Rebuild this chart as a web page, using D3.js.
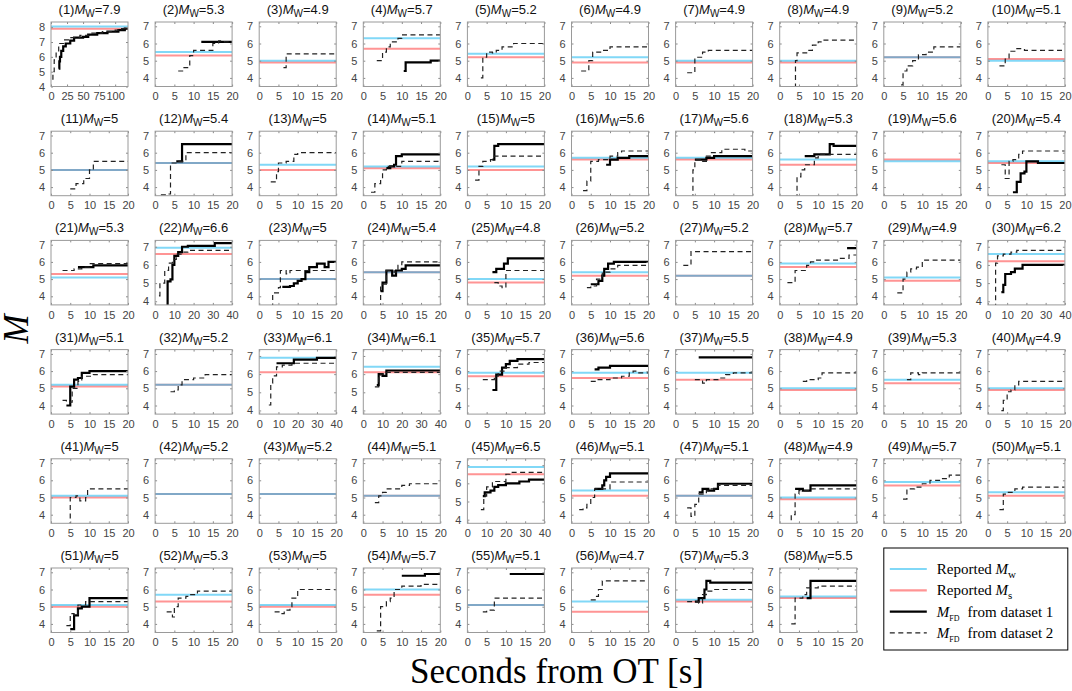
<!DOCTYPE html>
<html lang="en">
<head>
  <meta charset="utf-8">
  <title>Magnitude evolution, 58 events</title>
  <script src="https://d3js.org/d3.v7.min.js"></script>
  <style>
    body { margin: 0; background: #fff; }
    svg { display: block; }
    .tick text { font-family: "Liberation Sans", Arial, sans-serif; font-size: 11px; fill: #444; }
    .tick line { stroke: #8a8a8a; }
  </style>
</head>
<body>
<svg id="chart" width="1072" height="691"></svg>
<script>
  // ---- data ----
  const titleMw = [7.9, 5.3, 4.9, 5.7, 5.2, 4.9, 4.9, 4.9, 5.2, 5.1,
                   5, 5.4, 5, 5.1, 5, 5.6, 5.6, 5.3, 5.6, 5.4,
                   5.3, 6.6, 5, 5.4, 4.8, 5.2, 5.2, 5.7, 4.9, 6.2,
                   5.1, 5.2, 6.1, 6.1, 5.7, 5.6, 5.5, 4.9, 5.3, 4.9,
                   5, 5.2, 5.2, 5.1, 6.5, 5.1, 5.1, 4.9, 5.7, 5.1,
                   5, 5.3, 5, 5.7, 5.1, 4.7, 5.3, 5.5]

  // reported Mw (cyan) and Ms (red)
  const reportedMw = [8.05, 5.5, 5.0, 6.3, 5.4, 5.2, 5.0, 5.0, 5.2, 5.0,
                      5.0, 5.4, 5.3, 5.2, 5.2, 5.7, 5.7, 5.6, 5.5, 5.5,
                      5.1, 6.95, 5.0, 5.4, 5.0, 5.4, 5.2, 5.9, 5.1, 6.6,
                      5.2, 5.2, 6.9, 6.4, 5.9, 5.9, 5.9, 5.0, 5.5, 5.0,
                      5.1, 5.2, 5.2, 5.1, 6.9, 5.4, 5.1, 5.0, 5.9, 5.3,
                      5.1, 5.7, 5.1, 6.0, 5.1, 5.3, 5.4, 5.6]
  const reportedMs = [7.9, 5.3, 4.9, 5.7, 5.2, 4.9, 4.9, 4.9, 5.2, 5.1,
                      5.0, 5.4, 5.0, 5.1, 5.0, 5.6, 5.6, 5.3, 5.6, 5.4,
                      5.3, 6.6, 5.0, 5.4, 4.8, 5.2, 5.2, 5.7, 4.9, 6.2,
                      5.1, 5.2, 6.1, 6.1, 5.7, 5.6, 5.5, 4.9, 5.3, 4.9,
                      5.0, 5.2, 5.2, 5.1, 6.5, 5.1, 5.1, 4.9, 5.7, 5.1,
                      5.0, 5.3, 5.0, 5.7, 5.1, 4.7, 5.3, 5.5]

  // time span (s) of each panel
  const xMax = [120, 20, 20, 20, 20, 20, 20, 20, 20, 20,
                20, 20, 20, 20, 20, 20, 20, 20, 20, 20,
                20, 40, 20, 20, 20, 20, 20, 20, 20, 40,
                20, 20, 40, 40, 20, 20, 20, 20, 20, 20,
                20, 20, 20, 20, 40, 20, 20, 20, 20, 20,
                20, 20, 20, 20, 20, 20, 20, 20]

  const yRangeByX = { 20: [3.5, 7.25], 40: [3.8, 7.35], 120: [4, 8.35] }
  const yTicksByX = { 20: [4, 5, 6, 7], 40: [4, 5, 6, 7], 120: [4, 5, 6, 7, 8] }
  const xTicksByX = { 20: [0, 5, 10, 15, 20], 40: [0, 10, 20, 30, 40], 120: [0, 25, 50, 75, 100] }

  // M_FD from dataset 1 (solid), steps as [time, M]
  const ds1 = [
    [[12,5.2],[13,5.7],[14,6.0],[16,6.4],[19,6.7],[23,6.9],[30,7.1],[36,7.3],[50,7.35],[58,7.5],[72,7.6],[88,7.7],[105,7.8],[115,7.9]],
    [[12,6.1]],
    [],
    [[10.5,4.4],[11,4.9],[17.5,5.0]],
    [], [], [], [], [], [],
    [],
    [[5.5,5.5],[7,6.5]],
    [],
    [[6,5.1],[7,5.2],[8,5.3],[8.5,5.8],[10,5.9]],
    [[6.5,5.6],[7,6.4],[8,6.5]],
    [[9,5.3],[10,5.6],[12,5.7],[15,5.8]],
    [[5,5.6],[8,5.7],[10,5.8]],
    [[6.5,5.8],[9,5.9],[13,6.5],[14,6.4]],
    [],
    [[6.5,3.7],[7.5,4.3],[8.5,4.8],[9.5,4.9],[10,5.5],[13,5.4]],
    [[7,5.7],[11,5.8]],
    [[6,3.8],[6.5,5.1],[8,5.2],[9,6.0],[10,6.5],[12,6.7],[14,7.0],[17,7.05],[31,7.2]],
    [[6,4.55],[8,4.6],[9,4.75],[10,4.9],[11,5.0],[12,5.4],[13,5.7],[15,5.9],[17,5.7],[18,6.0]],
    [[4.5,4.3],[5,4.8],[6,5.5],[7.5,5.2],[8.5,5.5],[10,5.6],[11,5.8]],
    [[6.5,5.4],[7.5,5.6],[9.5,5.9],[10.5,6.2]],
    [[5,4.7],[7,4.9],[8,5.2],[8.5,5.6],[9.5,5.9],[11,6.0]],
    [],
    [[17.5,6.8]],
    [],
    [[7,4.5],[8,4.9],[9,5.5],[12,5.6],[14,5.8],[18,6.0]],
    [[4,4.0],[5,5.1],[6,5.5],[7,5.6],[8,5.9],[10,6.0]],
    [],
    [[9,6.6],[18,6.8],[30,6.9]],
    [[7,5.4],[8,6.0],[10,5.9],[12,6.2]],
    [[6.5,4.9],[7.5,5.8],[9,6.2],[10,6.4],[11,6.6],[13,6.7]],
    [[6,6.1],[7,6.2],[10,6.3]],
    [[6,6.8]],
    [], [], [],
    [], [], [], [],
    [[8,5.3],[9,5.5],[12,5.6],[14,5.8],[16,5.9],[20,6.0],[27,6.1],[32,6.2]],
    [[6,5.5],[8,5.7],[8.5,6.0],[9,6.2],[10,6.4]],
    [[6,5.3],[7,5.5],[8.5,5.4],[10,5.5],[11,5.8]],
    [[4,5.5],[6,5.4],[8,5.7]],
    [], [],
    [[5,3.7],[6,4.5],[7,4.9],[8,5.0],[10,5.5]],
    [], [],
    [[10,6.8],[16,6.9]],
    [[11,6.9]],
    [],
    [[5,5.3],[6,5.5],[7.5,6.0],[8,6.5],[9,6.4]],
    [[7,5.5],[8,6.5]]
  ]

  // M_FD from dataset 2 (dashed)
  const ds2 = [
    [[2,4.5],[3,5.0],[5,5.8],[8,6.4],[12,6.9],[20,7.15],[30,7.3],[45,7.45],[60,7.6],[80,7.7],[100,7.8],[110,7.9]],
    [[6,4.4],[7.5,4.6],[9,5.3],[10,5.6],[15,6.0],[16.5,6.15],[18,6.1]],
    [[6.3,4.6],[7,5.4]],
    [[3.5,5.0],[5,5.5],[6,5.8],[7,6.1],[9,6.3],[10,6.5]],
    [[3.5,4.0],[4,5.2],[5,5.5],[6.5,5.45],[7.5,5.6],[9,5.8],[12,6.0]],
    [[2.5,4.4],[4.5,5.0],[5.5,5.5],[8,5.6],[10,5.8]],
    [[3,4.3],[5,5.2],[7,5.5],[8.5,5.6]],
    [[4,3.4],[4.1,5.0],[4.5,5.45],[7,5.6],[8.5,5.9],[10,6.1],[11,6.2]],
    [[4.5,3.6],[5,4.4],[6,4.7],[7.5,5.0],[9,5.35],[11,5.5],[13,5.8]],
    [[3,4.7],[4.5,5.1],[5.5,5.55],[7,5.7],[9.5,5.6]],
    [[5,3.9],[6.5,4.2],[8.5,4.5],[10,5.0],[11,5.5]],
    [[1.5,3.55],[3,3.6],[4,5.4],[6,5.5],[8,6.0]],
    [[3,4.3],[4.5,4.9],[5,5.4],[7,5.5],[9,5.9],[10,6.0]],
    [[2,3.7],[3,4.2],[4.5,4.5],[5,5.0],[6,5.2],[10,5.5]],
    [[2,4.4],[3,5.2],[4,5.5],[6,5.6],[7,5.8]],
    [[3,3.8],[4,4.35],[5,5.5],[7,5.6],[10,5.8],[12,6.0],[13,6.1]],
    [[4,3.4],[4.5,5.0],[5,5.6],[7,5.5],[8,5.8],[9,6.0],[12,6.2],[18,6.1]],
    [[4,3.4],[4.5,4.6],[5.5,5.0],[6.5,5.3],[9,5.7],[10,5.9]],
    [],
    [[3.5,5.3],[4.5,4.5],[5.5,5.5],[6.5,5.6],[8,5.9],[9,6.1]],
    [[3,5.5],[6,5.6],[8,5.7],[10,5.9]],
    [[2,4.3],[2.5,5.0],[5,5.7],[7,6.1],[9,6.3],[11,6.6],[14,6.7],[17,6.8]],
    [[3,3.4],[3.5,4.2],[5,4.5],[5.5,5.5],[7,5.3],[8,5.5]],
    [[4,3.4],[4.5,4.7],[6,5.5],[8,5.4],[9,5.8],[10,6.0]],
    [[7,4.8],[8,4.6],[9,4.5],[10,5.5]],
    [[4,4.5],[5,4.6],[6.5,5.0],[8,5.4],[10,5.6],[12,5.8]],
    [[2,5.8],[4,6.6]],
    [[2,4.8],[4,5.5],[7,5.8],[8,6.0],[9,6.1],[15,6.2],[18,6.4]],
    [[3.5,4.2],[5,5.0],[6,5.4],[7,5.6],[8.5,5.7],[10,6.1]],
    [[3,3.7],[4,6.1],[5,6.5],[8,6.6],[12,6.7],[15,6.8]],
    [[3,4.3],[4,4.2],[5.5,5.0],[7,5.4],[8,5.7],[11,5.8]],
    [[4,4.8],[5,4.9],[6,5.2],[7,5.5],[10,5.6],[13,5.8]],
    [[5,4.3],[6,5.5],[7,5.9],[9,6.4],[12,6.5],[17,6.6]],
    [[6,5.3],[8,5.8],[9,6.0],[11,6.1]],
    [[4,5.5],[7,5.7],[8,6.0],[9.5,6.2],[13,6.4],[16,6.5]],
    [[5,5.4],[6.5,5.5],[10,5.6],[13,5.7],[15,5.9],[16,6.0],[17,5.9]],
    [[5,5.5],[7,5.3],[8,5.5],[11,5.6],[13,5.8],[15,5.9]],
    [[6,5.4],[7,5.5],[10,5.6],[11,5.9]],
    [[6,5.5],[7,5.9],[9,5.8],[10,5.9]],
    [[3.5,3.7],[4,4.3],[5,4.8],[6,4.9],[7,5.2],[8,5.4]],
    [[4.5,3.4],[5,5.0],[6.5,5.1],[7.5,4.8],[9,5.0],[9.5,5.5]],
    [],
    [],
    [[3,4.7],[4,5.1],[5,5.3],[6,5.5],[10,5.7],[12,5.8]],
    [[7,4.55],[8.5,5.3],[10,5.8],[13,6.1],[20,6.5],[22,6.6]],
    [[2,4.3],[3,4.4],[4,4.6],[5,5.0],[6,5.5],[10,5.9]],
    [[3,4.4],[4,3.9],[5,4.6],[6,5.2],[8,5.4],[9,5.5],[11,5.7]],
    [[2,3.4],[3,4.0],[4,5.2],[5,5.4],[8,5.5]],
    [[5,4.9],[6,5.5],[8,5.6],[10,5.8],[12,6.0],[15,6.1],[17,6.3]],
    [[3,4.3],[4,5.2],[5,5.3],[7,5.5],[9,5.6]],
    [[4,3.9],[5,4.6],[6,4.5],[7,5.1],[9,5.3]],
    [[3,4.7],[4.5,4.4],[5,5.0],[6,5.5],[8,5.6],[9,5.7],[11,5.9]],
    [[4,4.7],[5.5,4.6],[6.5,4.8],[8,5.0],[8.5,5.5],[10,6.0]],
    [[3.5,3.6],[4.5,5.0],[6,5.3],[7,5.5],[8,6.0],[10,6.2],[15,6.3]],
    [[4,4.7],[5,4.8],[7,5.5]],
    [[5,5.4],[6.5,5.6],[7,6.0],[8,6.5]],
    [[3,5.3],[6,5.2],[7,5.7],[8,5.9],[10,6.0]],
    [[3,4.0],[4,5.5],[6,5.7],[7,6.1],[9,6.1],[10,6.2]]
  ]

  // ---- layout ----
  const x0 = 51, dx = 104.1, pw = 77
  const y0 = 22, dy = 109.2, ph = 64.5
  const cyan = "#1ab8f0", red = "#ff3c3c"
  const dash = "5,3.5"
  const sans = '"Liberation Sans", Arial, sans-serif'
  const serif = '"Liberation Serif", "Times New Roman", serif'

  const svg = d3.select("#chart")
  const defs = svg.append("defs")

  titleMw.forEach(function (mw, i) {
    const col = i % 10, row = Math.floor(i / 10)
    const g = svg.append("g")
      .attr("transform", `translate(${x0 + col * dx}, ${y0 + row * dy})`)

    const x = d3.scaleLinear().domain([0, xMax[i]]).range([0, pw])
    const y = d3.scaleLinear().domain(yRangeByX[xMax[i]]).range([ph, 0])

    defs.append("clipPath").attr("id", "clip" + i)
      .append("rect").attr("width", pw).attr("height", ph)

    const plot = g.append("g").attr("clip-path", `url(#clip${i})`)

    // reported magnitudes
    plot.append("line")
      .attr("x1", x(0)).attr("x2", x(xMax[i]))
      .attr("y1", y(reportedMs[i])).attr("y2", y(reportedMs[i]))
      .attr("stroke", red).attr("stroke-width", 2).attr("stroke-opacity", 0.55)
    plot.append("line")
      .attr("x1", x(0)).attr("x2", x(xMax[i]))
      .attr("y1", y(reportedMw[i])).attr("y2", y(reportedMw[i]))
      .attr("stroke", cyan).attr("stroke-width", 2).attr("stroke-opacity", 0.55)

    const line = d3.line()
      .x(d => x(d[0]))
      .y(d => y(d[1]))
      .curve(d3.curveStepAfter)

    // step series, extended to the panel end
    const extend = s => s.length ? s.concat([[xMax[i], s[s.length - 1][1]]]) : s

    if (ds1[i].length) {
      plot.append("path")
        .datum(extend(ds1[i]))
        .attr("d", line)
        .attr("fill", "none")
        .attr("stroke", "#000")
        .attr("stroke-width", 2.2)
    }
    if (ds2[i].length) {
      plot.append("path")
        .datum(extend(ds2[i]))
        .attr("d", line)
        .attr("fill", "none")
        .attr("stroke", "#222")
        .attr("stroke-width", 1.2)
        .attr("stroke-dasharray", dash)
    }

    // axes (ticks inside, mirrored on top/right)
    g.append("g")
      .attr("transform", `translate(0, ${ph})`)
      .call(d3.axisBottom(x).tickValues(xTicksByX[xMax[i]]).tickFormat(d3.format("d")).tickSize(-2).tickPadding(6))
      .call(a => a.select(".domain").remove())
    g.append("g")
      .call(d3.axisLeft(y).tickValues(yTicksByX[xMax[i]]).tickFormat(d3.format("d")).tickSize(-2).tickPadding(6))
      .call(a => a.select(".domain").remove())
    g.append("g")
      .call(d3.axisTop(x).tickValues(xTicksByX[xMax[i]]).tickSize(-2).tickFormat(""))
      .call(a => a.select(".domain").remove())
    g.append("g")
      .attr("transform", `translate(${pw}, 0)`)
      .call(d3.axisRight(y).tickValues(yTicksByX[xMax[i]]).tickSize(-2).tickFormat(""))
      .call(a => a.select(".domain").remove())

    g.append("rect")
      .attr("width", pw).attr("height", ph)
      .attr("fill", "none")
      .attr("stroke", "#9a9a9a")
      .attr("stroke-width", 1)

    // title
    const t = g.append("text")
      .attr("x", pw / 2).attr("y", -8)
      .attr("text-anchor", "middle")
      .style("font-family", sans)
      .style("font-size", "13px")
      .attr("fill", "#111")
    t.append("tspan").text(`(${i + 1})`)
    t.append("tspan").style("font-style", "italic").text("M")
    t.append("tspan").attr("dy", 3).style("font-size", "10px").text("W")
    t.append("tspan").attr("dy", -3).text("=" + mw)
  })

  // ---- global axis labels ----
  svg.append("text")
    .attr("x", 557).attr("y", 683)
    .attr("text-anchor", "middle")
    .style("font-family", serif)
    .style("font-size", "35px")
    .text("Seconds from OT [s]")

  svg.append("text")
    .attr("transform", "translate(28, 329) rotate(-90)")
    .attr("text-anchor", "middle")
    .style("font-family", serif)
    .style("font-size", "35px")
    .style("font-style", "italic")
    .text("M")

  // ---- legend ----
  const lx = x0 + 8 * dx, ly = y0 + 5 * dy - 20
  const legend = svg.append("g").attr("transform", `translate(${lx}, ${ly})`)
  legend.append("rect")
    .attr("width", 184).attr("height", 102)
    .attr("fill", "#fff").attr("stroke", "#000").attr("stroke-width", 1)

  const legendKeys = ["mw", "ms", "ds1", "ds2"]
  const legendText = ["Reported ", "Reported ", "", ""]
  const legendSub = ["w", "s", "FD", "FD"]
  const legendTail = ["", "", "from dataset 1", "from dataset 2"]
  const legendStroke = { mw: cyan, ms: red, ds1: "#000", ds2: "#222" }

  legendKeys.forEach(function (k, j) {
    const yy = 21 + j * 21.3
    legend.append("line")
      .attr("x1", 6).attr("x2", 43)
      .attr("y1", yy).attr("y2", yy)
      .attr("stroke", legendStroke[k])
      .attr("stroke-width", k === "ds2" ? 1.2 : 2.2)
      .attr("stroke-opacity", (k === "mw" || k === "ms") ? 0.55 : 1)
      .attr("stroke-dasharray", k === "ds2" ? dash : null)
    const tx = legend.append("text")
      .attr("x", 53).attr("y", yy + 5)
      .style("font-family", serif)
      .style("font-size", "15px")
    if (legendText[j]) tx.append("tspan").text(legendText[j])
    tx.append("tspan").style("font-style", "italic").text("M")
    const sub = tx.append("tspan").attr("dy", 4).text(legendSub[j])
    if (legendSub[j] === "FD") sub.style("font-size", "8px")
    else sub.style("font-size", "11px")
    if (legendTail[j]) tx.append("tspan").attr("dy", -4).attr("dx", 8).text(legendTail[j])
  })
</script>
</body>
</html>
